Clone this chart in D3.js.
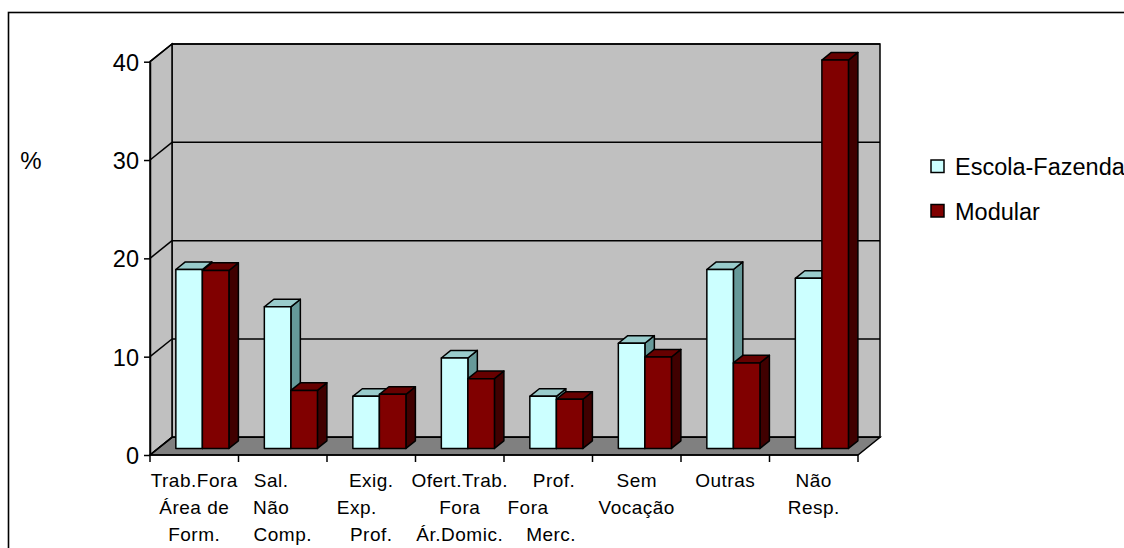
<!DOCTYPE html>
<html>
<head>
<meta charset="utf-8">
<script src="https://cdn.jsdelivr.net/npm/d3@7"></script>
<style>
  html, body { margin: 0; padding: 0; background: #fff; }
  svg { display: block; }
  text { font-family: Arial, "Liberation Sans", sans-serif; fill: #000; }
</style>
</head>
<body>
<svg id="chart" width="1124" height="548"></svg>
<script>
// ---- data ----
const categories = [
  ["Trab.Fora", "Área de", "Form."],
  ["Sal.    ", "Não    ", "Comp."],
  ["Exig.", "Exp.     ", "Prof."],
  ["Ofert.Trab.", "Fora", "Ár.Domic."],
  ["  Prof.", "Fora       ", " Merc."],
  ["Sem", "Vocação"],
  ["Outras"],
  ["Não", "Resp."]
];
const seriesNames = ["Escola-Fazenda", "Modular"];
const escolaFazenda = [18.2, 14.4, 5.3, 9.2, 5.3, 10.7, 18.2, 17.3];
const modular       = [18.1, 5.9, 5.5, 7.1, 5.0, 9.3, 8.7, 39.5];
const yTicks = [0, 10, 20, 30, 40];
const yLabel = "%";

// ---- styles ----
const colors = {
  "Escola-Fazenda": { front: "#CCFFFF", top: "#99CCCC", side: "#669999" },
  "Modular":        { front: "#800000", top: "#660000", side: "#400000" }
};
const wallFill = "#C0C0C0", floorFill = "#808080";

const svg = d3.select("#chart");
const catIds = categories.map((c, i) => i);
const seriesValues = [escolaFazenda, modular];

// front plane geometry
const left = 150, right = 858, yTop = 61.7, yBase = 455;
const D = { x: 22, y: -17.7 };         // depth of the 3D box
const f0 = 0.37, f1 = 0.80;            // bar depth span (fractions of D)

const x0 = d3.scaleBand().domain(catIds).range([left, right]).padding(0);
const bw = x0.bandwidth();
const x1 = d3.scaleBand().domain(seriesNames).range([0.2 * bw, 0.8 * bw]).padding(0);
const y = d3.scaleLinear().domain([0, 40]).range([yBase, yTop]);

// outer frame
svg.append("rect").attr("x", 8.5).attr("y", 12.5).attr("width", 1300).attr("height", 700)
  .attr("fill", "none").attr("stroke", "#000").attr("stroke-width", 1.6);

const P = pts => pts.map(p => p.join(",")).join(" ");

// back wall
svg.append("polygon")
  .attr("points", P([[left + D.x, y(40) + D.y], [right + D.x, y(40) + D.y], [right + D.x, y(0) + D.y], [left + D.x, y(0) + D.y]]))
  .attr("fill", wallFill).attr("stroke", "#000").attr("stroke-width", 1.5);
// left wall
svg.append("polygon")
  .attr("points", P([[left, y(40)], [left + D.x, y(40) + D.y], [left + D.x, y(0) + D.y], [left, y(0)]]))
  .attr("fill", wallFill).attr("stroke", "#000").attr("stroke-width", 1.5);
// floor
svg.append("polygon")
  .attr("points", P([[left, y(0)], [right, y(0)], [right + D.x, y(0) + D.y], [left + D.x, y(0) + D.y]]))
  .attr("fill", floorFill).attr("stroke", "#000").attr("stroke-width", 1.5);

// gridlines: back wall + left wall diagonals
yTicks.forEach(t => {
  svg.append("line")
    .attr("x1", left + D.x).attr("x2", right + D.x)
    .attr("y1", y(t) + D.y).attr("y2", y(t) + D.y)
    .attr("stroke", "#000").attr("stroke-width", 1.5);
  svg.append("line")
    .attr("x1", left).attr("y1", y(t))
    .attr("x2", left + D.x).attr("y2", y(t) + D.y)
    .attr("stroke", "#000").attr("stroke-width", 1.5);
});

// bars
const g = svg.append("g").attr("stroke", "#000").attr("stroke-width", 1.5).attr("stroke-linejoin", "round");
const dx0 = D.x * f0, dy0 = D.y * f0;
const ddx = D.x * (f1 - f0), ddy = D.y * (f1 - f0);
catIds.forEach(ci => {
  seriesNames.forEach((s, si) => {
    const v = seriesValues[si][ci];
    const xa = x0(ci) + x1(s) + dx0;
    const xb = xa + x1.bandwidth();
    const ya = y(v) + dy0;
    const yb = y(0) + dy0;
    const c = colors[s];
    g.append("polygon").attr("fill", c.side)
      .attr("points", P([[xb, ya], [xb + ddx, ya + ddy], [xb + ddx, yb + ddy], [xb, yb]]));
    g.append("polygon").attr("fill", c.top)
      .attr("points", P([[xa, ya], [xa + ddx, ya + ddy], [xb + ddx, ya + ddy], [xb, ya]]));
    g.append("rect").attr("fill", c.front)
      .attr("x", xa).attr("y", ya).attr("width", xb - xa).attr("height", yb - ya);
  });
});

// y axis
const yAxis = svg.append("g").attr("transform", `translate(${left},0)`)
  .call(d3.axisLeft(y).tickValues(yTicks).tickSize(6).tickSizeOuter(0).tickPadding(5));
yAxis.select(".domain").attr("stroke", "#000").attr("stroke-width", 1.5);
yAxis.selectAll(".tick line").attr("stroke", "#000").attr("stroke-width", 1.5);
yAxis.selectAll(".tick text").attr("font-size", 23.5).attr("font-family", "Arial, 'Liberation Sans', sans-serif").attr("fill", "#000").attr("dy", "0.36em");

svg.append("text").attr("x", 31).attr("y", 161).attr("dy", "0.35em")
  .attr("text-anchor", "middle").attr("font-size", 24).text(yLabel);

// x axis front edge + boundary ticks
svg.append("line").attr("x1", left).attr("x2", right).attr("y1", y(0)).attr("y2", y(0))
  .attr("stroke", "#000").attr("stroke-width", 1.5);
const bounds = catIds.map(i => x0(i)).concat([x0(catIds.length - 1) + bw]);
bounds.forEach(bx => {
  svg.append("line").attr("x1", bx).attr("x2", bx).attr("y1", y(0)).attr("y2", y(0) + 7)
    .attr("stroke", "#000").attr("stroke-width", 1.5);
});

// category labels
catIds.forEach(ci => {
  const t = svg.append("text")
    .attr("text-anchor", "middle")
    .attr("font-size", 19)
    .attr("letter-spacing", "0.5px")
    .style("white-space", "pre")
    .attr("xml:space", "preserve");
  categories[ci].forEach((line, li) => {
    t.append("tspan").attr("x", x0(ci) + bw / 2).attr("y", y(0) + 31.7 + li * 27.2).text(line);
  });
});

// legend
const legend = svg.append("g");
seriesNames.forEach((s, i) => {
  const ly = 160 + i * 44.5;
  legend.append("rect").attr("x", 931).attr("y", ly).attr("width", 13).attr("height", 12.5)
    .attr("fill", colors[s].front).attr("stroke", "#000").attr("stroke-width", 1.5);
  legend.append("text").attr("x", 955).attr("y", ly + 15).attr("font-size", 23.5).text(s);
});
</script>
</body>
</html>
